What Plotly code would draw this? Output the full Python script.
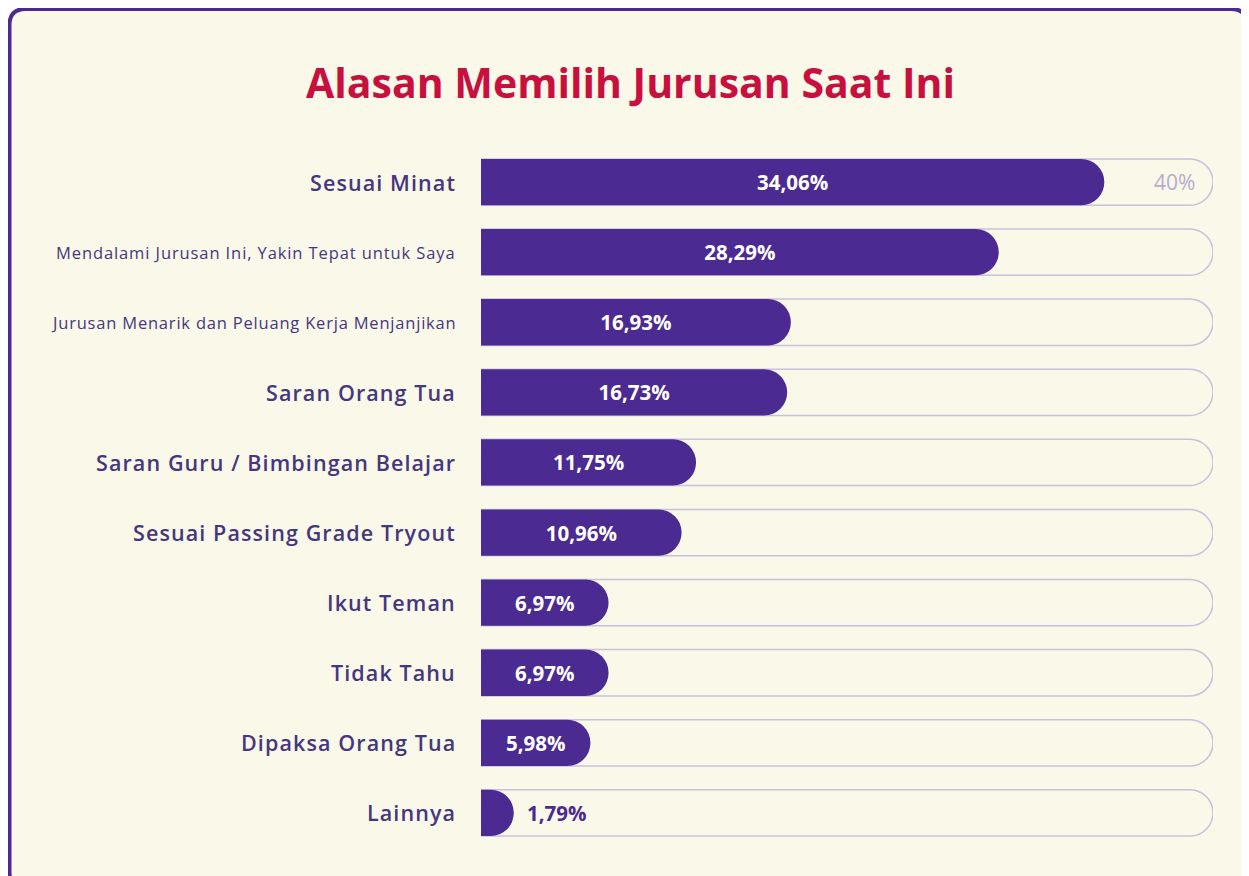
import plotly.graph_objects as go

categories = [
    "Sesuai Minat",
    "Mendalami Jurusan Ini, Yakin Tepat untuk Saya",
    "Jurusan Menarik dan Peluang Kerja Menjanjikan",
    "Saran Orang Tua",
    "Saran Guru / Bimbingan Belajar",
    "Sesuai Passing Grade Tryout",
    "Ikut Teman",
    "Tidak Tahu",
    "Dipaksa Orang Tua",
    "Lainnya",
]
values = [34.06, 28.29, 16.93, 16.73, 11.75, 10.96, 6.97, 6.97, 5.98, 1.79]
label_sizes = [21.5, 16.5, 16.5, 21.5, 21.5, 21.5, 21.5, 21.5, 21.5, 21.5]
label_spacing = [1.1, 0.9, 0.8, 1.1, 1.1, 1.1, 1.1, 1.1, 1.1, 1.1]
label_weights = [600, 500, 500, 600, 600, 600, 600, 600, 600, 600]
max_value = 40
title_text = "Alasan Memilih Jurusan Saat Ini"

# page body has an 8px margin, so figure coords = screen coords - 8
W, H = 1241, 868
ML, MR, MT, MB = 473, 36, 139, 28
PW = W - ML - MR
PH = H - MT - MB

BG = "#f9f8e9"
PURPLE = "#4b2a91"
LABEL = "#45377f"
TRACK = "#c9c0de"
FONT = "'Open Sans', Lato, sans-serif"

ids = list(range(len(categories)))

def fmt(v):
    return f"{v:.2f}".replace(".", ",") + "%"

positions = ["inside" if v > 4 else "outside" for v in values]
texts = [fmt(v) if p == "inside" else "\u2002" + fmt(v) for v, p in zip(values, positions)]

fig = go.Figure()
# background track (own subplot so it does not suppress the rounding of the bars)
fig.add_trace(go.Bar(
    y=ids, x=[max_value] * len(ids), orientation="h",
    marker=dict(color=BG, line=dict(color=TRACK, width=1.5), cornerradius="50%"),
    width=0.66, hoverinfo="skip", showlegend=False,
    xaxis="x", yaxis="y",
))
fig.add_trace(go.Bar(
    y=ids, x=values, orientation="h",
    marker=dict(color=PURPLE, line=dict(width=0), cornerradius="50%"),
    width=0.66, text=texts, textposition=positions,
    insidetextanchor="middle",
    insidetextfont=dict(family=FONT, size=20.5, color="white", weight="bold"),
    outsidetextfont=dict(family=FONT, size=20.5, color=PURPLE, weight="bold"),
    cliponaxis=False, showlegend=False,
    xaxis="x2", yaxis="y2",
))

annotations = []
for i, (c, s, sp, w) in enumerate(zip(categories, label_sizes, label_spacing, label_weights)):
    annotations.append(dict(
        x=0, y=i, xref="x", yref="y",
        text=f'<span style="letter-spacing:{sp}px">{c}</span>', showarrow=False,
        xanchor="right", yanchor="middle", xshift=-23,
        font=dict(family=FONT, size=s, color=LABEL, weight=w),
    ))
annotations.append(dict(
    x=max_value, y=0, xref="x", yref="y", text=f"{max_value}%", showarrow=False,
    xanchor="right", yanchor="middle", xshift=-16,
    font=dict(family=FONT, size=21, color="#b6adcb", weight=500),
))
annotations.append(dict(
    x=(630 - 8 - ML) / PW, y=(H - MB - (82 - 8)) / PH, xref="paper", yref="paper",
    text=f"<b>{title_text}</b>", showarrow=False, xanchor="center", yanchor="middle",
    font=dict(family=FONT, size=41, color="#c8103f"),
))

def px2x(px):
    return (px - ML) / PW

def px2y(py):
    return (H - MB - py) / PH

# frame (rounded rectangle), given in figure pixels
x0, x1, y0, y1, r = 1.5, 1239, 1, 880, 16
path = (
    f"M {px2x(x0 + r)},{px2y(y0)} L {px2x(x1 - r)},{px2y(y0)} "
    f"Q {px2x(x1)},{px2y(y0)} {px2x(x1)},{px2y(y0 + r)} "
    f"L {px2x(x1)},{px2y(y1 - r)} Q {px2x(x1)},{px2y(y1)} {px2x(x1 - r)},{px2y(y1)} "
    f"L {px2x(x0 + r)},{px2y(y1)} Q {px2x(x0)},{px2y(y1)} {px2x(x0)},{px2y(y1 - r)} "
    f"L {px2x(x0)},{px2y(y0 + r)} Q {px2x(x0)},{px2y(y0)} {px2x(x0 + r)},{px2y(y0)} Z"
)

yrange = [len(ids) - 0.5, -0.5]
fig.update_layout(
    width=W, height=H,
    margin=dict(l=ML, r=MR, t=MT, b=MB),
    paper_bgcolor="white", plot_bgcolor="rgba(0,0,0,0)",
    barmode="overlay",
    xaxis=dict(range=[0, max_value], visible=False, fixedrange=True),
    yaxis=dict(range=yrange, visible=False, fixedrange=True),
    xaxis2=dict(range=[0, max_value], visible=False, fixedrange=True,
                overlaying="x", anchor="y2"),
    yaxis2=dict(range=yrange, visible=False, fixedrange=True,
                overlaying="y", anchor="x2"),
    annotations=annotations,
    shapes=[dict(type="path", path=path, xref="paper", yref="paper",
                 fillcolor=BG, line=dict(color=PURPLE, width=4), layer="below")],
    font=dict(family=FONT),
)

fig.write_html("out.html")
